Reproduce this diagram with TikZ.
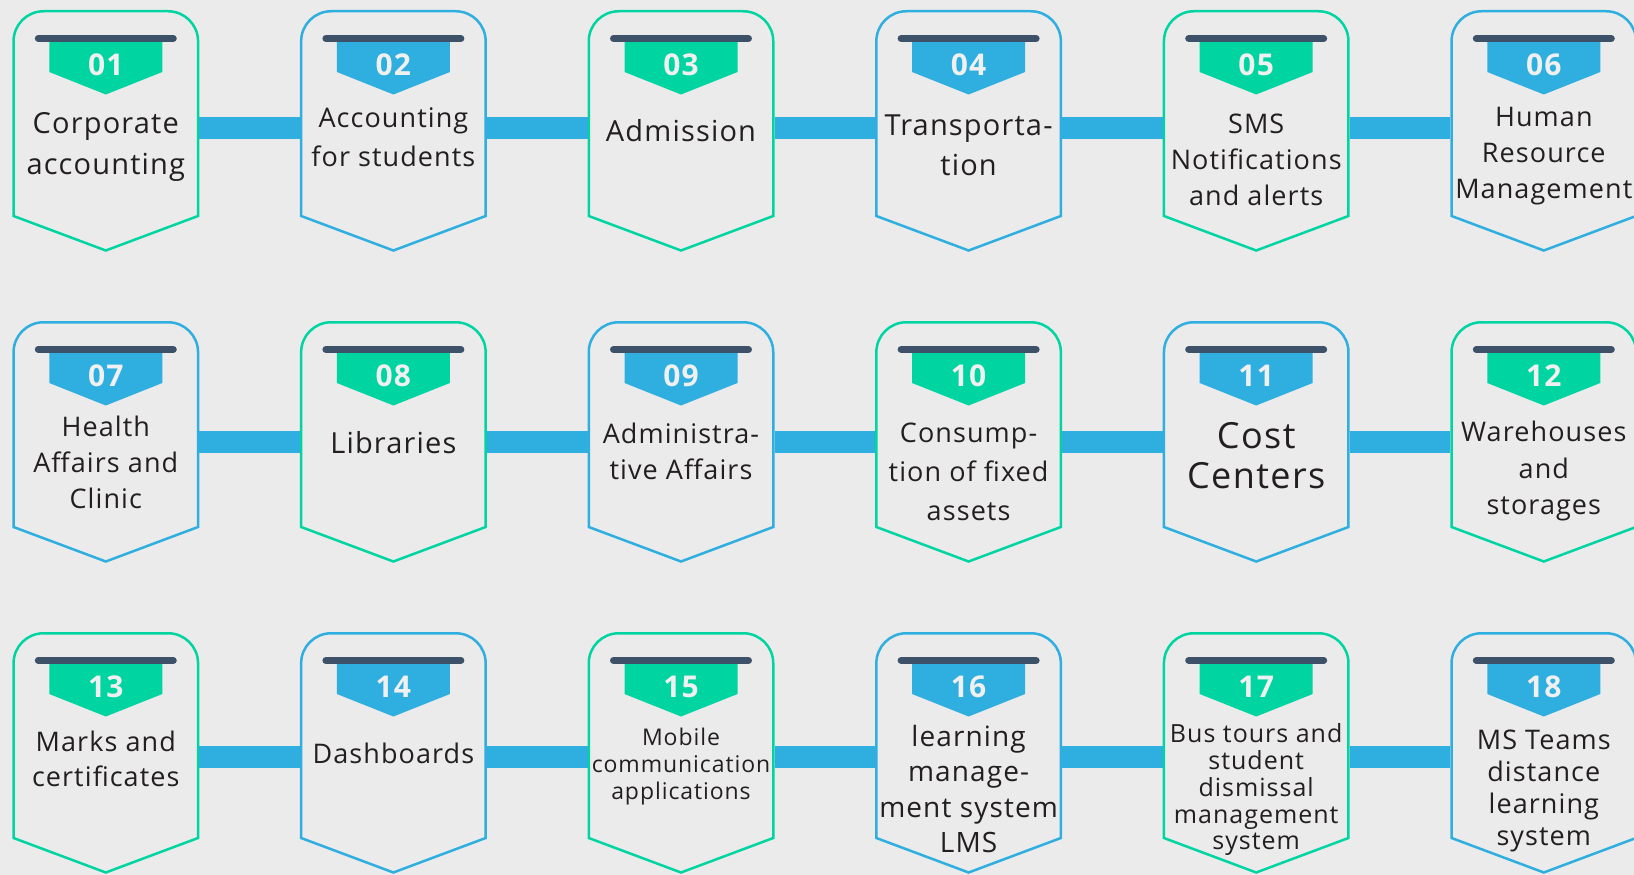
\documentclass[tikz,border=0pt]{standalone}
\usepackage{fontspec}
\setmainfont{Open Sans}[LetterSpace=4]
\definecolor{bg}{HTML}{EBEBEB}
\definecolor{tgreen}{HTML}{00D5A2}
\definecolor{tblue}{HTML}{2FAEE0}
\definecolor{barc}{HTML}{3D5269}
\definecolor{txt}{HTML}{231F20}
\definecolor{numc}{HTML}{F0F0F0}
\tikzset{
  tileline/.style={draw=#1, line width=2.5pt, fill=bg, line join=miter},
  conn/.style={draw=tblue, line width=22pt},
  barline/.style={draw=barc, line width=7pt, line cap=round},
  numtext/.style={text=numc, inner sep=0pt, font=\fontsize{30}{30}\selectfont\bfseries},
  lbl/.style={text=txt, inner sep=0pt, align=center, font=\fontsize{#1}{#1}\selectfont},
}
\newcommand{\tile}[6]{%
  \begin{scope}[shift={(#1,#2)}]
    \draw[tileline=#3] (-92.25,206) -- (-92.25,31.25)
      .. controls (-92.25,14.68) and (-78.82,1.25) .. (-62.25,1.25)
      -- (62.25,1.25)
      .. controls (78.82,1.25) and (92.25,14.68) .. (92.25,31.25)
      -- (92.25,206) -- (0,240.5) -- cycle;
    \fill[#3] (-56.5,31) -- (56.5,31) -- (56.5,62) -- (0,84.5) -- (-56.5,62) -- cycle;
    \draw[barline] (-67.5,28.5) -- (67.5,28.5);
    \node[numtext] (n#4) at (0,54.5) {#5};
    \coordinate (L#4) at (-93.5,#6);
    \coordinate (R#4) at (93.5,#6);
  \end{scope}}
\begin{document}
\begin{tikzpicture}[x=1pt,y=-1pt]
\useasboundingbox (0,0) rectangle (1634,875);
\clip (0,0) rectangle (1634,875);
\fill[bg] (0,0) rectangle (1634,875);
% row 1
\tile{105.8}{10}{tgreen}{1}{01}{118}
\tile{393.4}{10}{tblue}{2}{02}{118}
\tile{681}{10}{tgreen}{3}{03}{118}
\tile{968.6}{10}{tblue}{4}{04}{118}
\tile{1256.2}{10}{tgreen}{5}{05}{118}
\tile{1543.8}{10}{tblue}{6}{06}{118}
% row 2
\tile{105.8}{321}{tblue}{7}{07}{121}
\tile{393.4}{321}{tgreen}{8}{08}{121}
\tile{681}{321}{tblue}{9}{09}{121}
\tile{968.6}{321}{tgreen}{10}{10}{121}
\tile{1256.2}{321}{tblue}{11}{11}{121}
\tile{1543.8}{321}{tgreen}{12}{12}{121}
% row 3
\tile{105.8}{632}{tgreen}{13}{13}{125}
\tile{393.4}{632}{tblue}{14}{14}{125}
\tile{681}{632}{tgreen}{15}{15}{125}
\tile{968.6}{632}{tblue}{16}{16}{125}
\tile{1256.2}{632}{tgreen}{17}{17}{125}
\tile{1543.8}{632}{tblue}{18}{18}{125}
% connectors
\foreach \a/\b in {1/2,2/3,3/4,4/5,5/6,7/8,8/9,9/10,10/11,11/12,13/14,14/15,15/16,16/17,17/18}
  \draw[conn] (R\a) -- (L\b);
% labels
\node[lbl=29, font=\fontsize{29}{40.6}\selectfont] (t1) at (105.8,147) {Corporate\\accounting};
\node[lbl=27, font=\fontsize{27}{38.6}\selectfont] (t2) at (393.4,137) {Accounting\\for students};
\node[lbl=29] (t3) at (681,130.3) {Admission};
\node[lbl=29, font=\fontsize{29}{39.6}\selectfont] (t4) at (968.6,145.5) {Transporta-\\tion};
\node[lbl=27, font=\fontsize{27}{36}\selectfont] (t5) at (1256.2,159.6) {SMS\\Notifications\\and alerts};
\node[lbl=27, font=\fontsize{27}{36}\selectfont] (t6) at (1543.8,156.5) {Human\\Resource\\Management};
\node[lbl=27, font=\fontsize{27}{36}\selectfont] (t7) at (105.8,462) {Health\\Affairs and\\Clinic};
\node[lbl=29] (t8) at (393.4,442.9) {Libraries};
\node[lbl=27, font=\fontsize{27}{35.4}\selectfont] (t9) at (681,451.2) {Administra-\\tive Affairs};
\node[lbl=27, font=\fontsize{27}{39}\selectfont] (t10) at (968.6,472) {Consump-\\tion of fixed\\assets};
\node[lbl=36, font=\fontsize{36}{39.6}\selectfont] (t11) at (1256.2,455.4) {Cost\\Centers};
\node[lbl=27, font=\fontsize{27}{36.5}\selectfont] (t12) at (1543.8,471) {Warehouses\\and\\storages};
\node[lbl=27, font=\fontsize{27}{35.4}\selectfont] (t13) at (105.8,758.6) {Marks and\\certificates};
\node[lbl=27] (t14) at (393.4,753.4) {Dashboards};
\node[lbl=23, font=\fontsize{23}{27.1}\selectfont] (t15) at (681,766.8) {Mobile\\communication\\applications};
\node[lbl=28, font=\fontsize{28}{35.4}\selectfont] (t16) at (968.6,788.8) {learning\\manage-\\ment system\\LMS};
\node[lbl=25, font=\fontsize{25}{26.8}\selectfont] (t17) at (1256.2,789.8) {Bus tours and\\student\\dismissal\\management\\system};
\node[lbl=27, font=\fontsize{27}{32}\selectfont] (t18) at (1543.8,791) {MS Teams\\distance\\learning\\system};
\end{tikzpicture}
\end{document}
